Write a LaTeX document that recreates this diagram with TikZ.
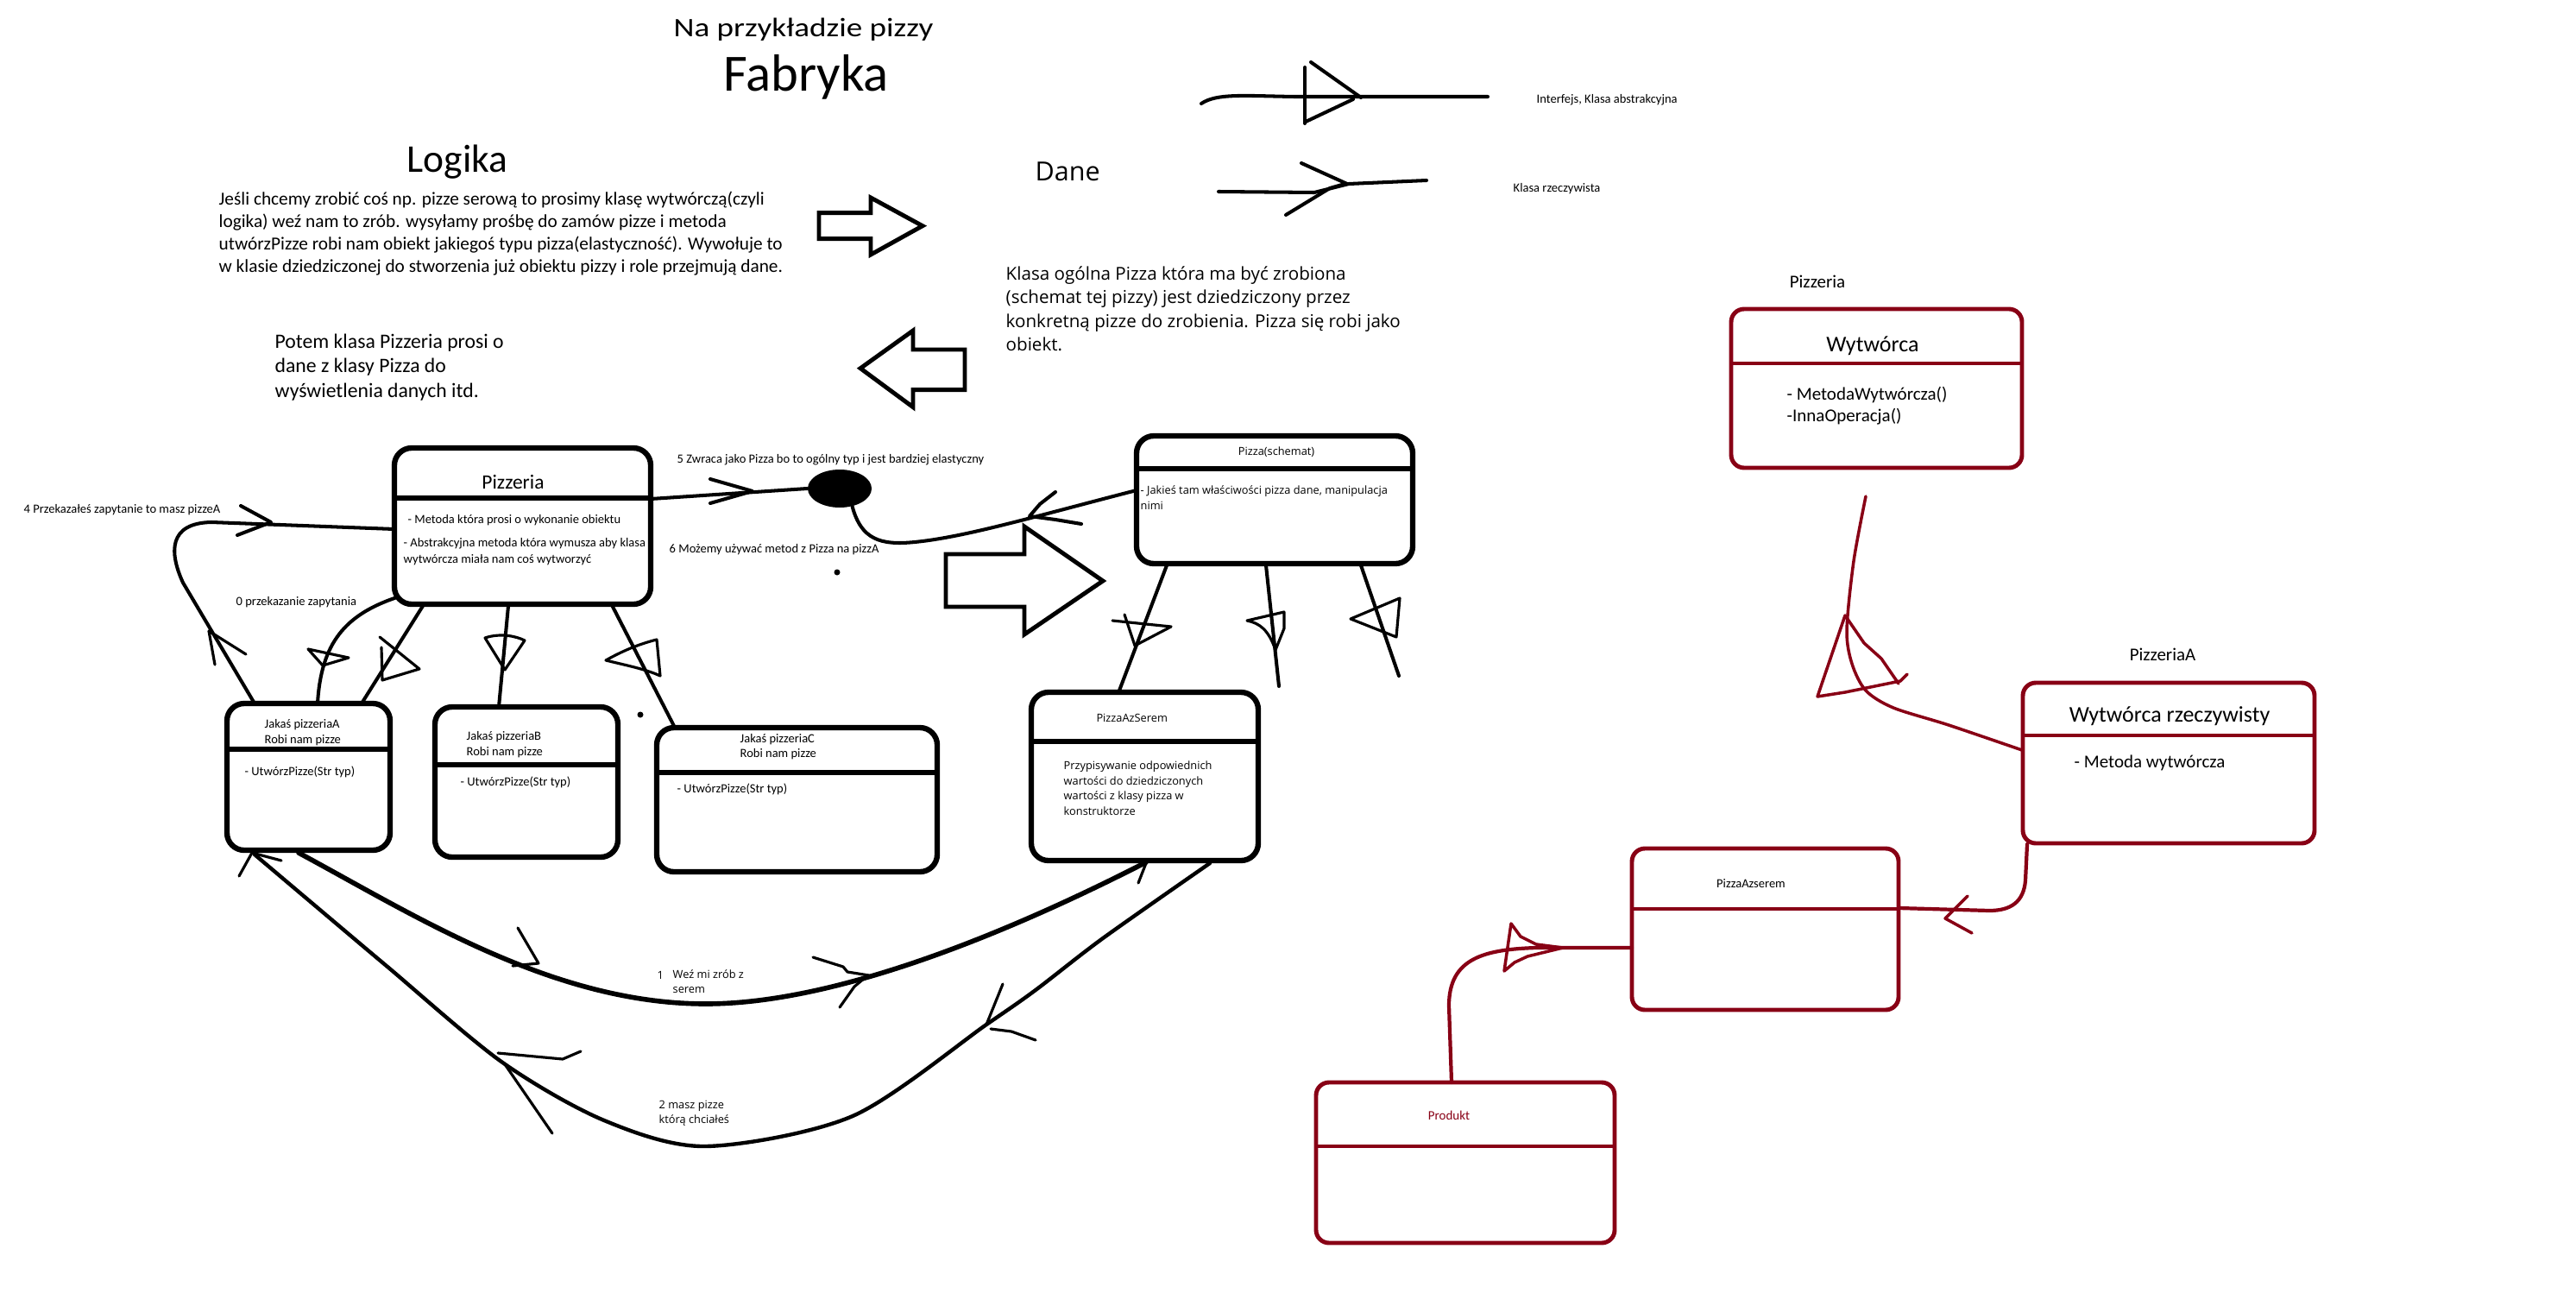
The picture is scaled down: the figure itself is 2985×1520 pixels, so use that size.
\documentclass[tikz,border=0pt]{standalone}
\usepackage{fontspec}
\setmainfont{Carlito}
\newfontfamily\seg{Open Sans}
\newfontfamily\wide[FakeStretch=1.2]{Carlito}
\usetikzlibrary{shapes.geometric}
\definecolor{dred}{RGB}{136,0,21}
\newcommand\fz[1]{\fontsize{#1pt}{#1pt}\selectfont}
\begin{document}
\begin{tikzpicture}[x=0.1mm,y=-0.1mm,
  box/.style={draw, line width=1.8pt, rounded corners=2mm, inner sep=0pt},
  rbox/.style={draw=dred, line width=1.4pt, rounded corners=1.5mm, inner sep=0pt},
  divl/.style={line width=1.8pt},
  rdivl/.style={draw=dred, line width=1.4pt},
  conn/.style={line width=1.15pt, line cap=round, line join=round},
  thinl/.style={line width=0.9pt, line cap=round, line join=round},
  rconn/.style={draw=dred, line width=1pt, line cap=round, line join=round},
  blockarrow/.style={line width=1.4pt, line join=miter},
  t/.style={anchor=base west, inner sep=0pt},
  tc/.style={anchor=base, inner sep=0pt}]
\useasboundingbox (0,0) rectangle (2985,1520);

% ---------- titles ----------
\node[tc, font=\wide\fz{8.8}] (title1) at (931,43) {Na przykładzie pizzy};
\node[tc, font=\fz{17.24}] (title2) at (934,106) {Fabryka};
\node[tc, font=\fz{12.94}] (logika) at (530,200) {Logika};

\node[t, font=\fz{6.06}] (lg1) at (253,237.3) {Jeśli chcemy zrobić coś np. pizze serową to prosimy klasę wytwórczą(czyli};
\node[t, font=\fz{6.06}] (lg2) at (253,263.4) {logika) weź nam to zrób. wysyłamy prośbę do zamów pizze i metoda};
\node[t, font=\fz{6.06}] (lg3) at (253,289.5) {utwórzPizze robi nam obiekt jakiegoś typu pizza(elastyczność). Wywołuje to};
\node[t, font=\fz{6.06}] (lg4) at (253,315.6) {w klasie dziedziczonej do stworzenia już obiektu pizzy i role przejmują dane.};

\node[t, font=\fz{6.74}] (pt1) at (318,403) {Potem klasa Pizzeria prosi o};
\node[t, font=\fz{6.74}] (pt2) at (318,431.7) {dane z klasy Pizza do};
\node[t, font=\fz{6.74}] (pt3) at (318,460) {wyświetlenia danych itd.};

\node[t, font=\seg\fz{8.68}] (dane) at (1199,210) {Dane};
\node[t, font=\seg\fz{5.86}] (kl1) at (1165,324) {Klasa ogólna Pizza która ma być zrobiona};
\node[t, font=\seg\fz{5.86}] (kl2) at (1165,351.5) {(schemat tej pizzy) jest dziedziczony przez};
\node[t, font=\seg\fz{5.86}] (kl3) at (1165,379) {konkretną pizze do zrobienia. Pizza się robi jako};
\node[t, font=\seg\fz{5.86}] (kl4) at (1165,406.5) {obiekt.};

% ---------- block arrows ----------
\draw[blockarrow] (949,246.7) -- (1009,246.7) -- (1009,229) -- (1069,261.7) -- (1009,295) -- (1009,276.7) -- (949,276.7) -- cycle;
\draw[blockarrow] (1118,405) -- (1058,405) -- (1058,383) -- (997,426.7) -- (1058,471.7) -- (1058,451.7) -- (1118,451.7) -- cycle;
\draw[blockarrow] (1096,642) -- (1187,642) -- (1187,610) -- (1278,673) -- (1187,735) -- (1187,703) -- (1096,703) -- cycle;

% ---------- legend ----------
\coordinate (lg1a) at (1392,120);
\coordinate (lg1b) at (1724,112);
\draw[conn] (lg1a) .. controls (1410,108) and (1440,111) .. (1500,112) -- (lg1b);
\draw[conn] (1512,78) -- (1512,143);
\draw[conn] (1519,72) -- (1577,113);
\draw[conn] (1513,141) -- (1568,115);
\node[t, font=\fz{4.13}] (leg1) at (1780,120) {Interfejs, Klasa abstrakcyjna};

\coordinate (lg2a) at (1412,222);
\coordinate (lg2b) at (1653,209);
\draw[conn] (lg2a) -- (1523,223) -- (1563,213) -- (lg2b);
\draw[conn] (1508,189) -- (1561,213);
\draw[conn] (1490,249) -- (1541,218) -- (1555,214);
\node[t, font=\fz{4.13}] (leg2) at (1753,223) {Klasa rzeczywista};

% ---------- black boxes ----------
\node[box, minimum width=29.7mm, minimum height=18.1mm] (pz) at (605.5,609.5) {};
\draw[divl] (457,577) -- (754,577);
\node[tc, font=\fz{6.69}] (pzT) at (594.5,566) {Pizzeria};
\node[t, font=\fz{4.13}] (pzm1) at (472,606) {- Metoda która prosi o wykonanie obiektu};
\node[t, font=\fz{4.13}] (pzm2) at (467,633) {- Abstrakcyjna metoda która wymusza aby klasa};
\node[t, font=\fz{4.13}] (pzm3) at (467,652.5) {wytwórcza miała nam coś wytworzyć};

\node[box, minimum width=18.9mm, minimum height=17mm] (pA) at (357.5,900) {};
\draw[divl] (263,868) -- (452,868);
\node[t, font=\fz{4.13}] (pA1) at (306,843.3) {Jakaś pizzeriaA};
\node[t, font=\fz{4.13}] (pA2) at (306,861) {Robi nam pizze};
\node[t, font=\fz{4.13}] (pA3) at (283,898) {- UtwórzPizze(Str typ)};

\node[box, minimum width=21.2mm, minimum height=17.4mm] (pB) at (610,906) {};
\draw[divl] (504,886) -- (716,886);
\node[t, font=\fz{4.13}] (pB1) at (540,857) {Jakaś pizzeriaB};
\node[t, font=\fz{4.13}] (pB2) at (540,875) {Robi nam pizze};
\node[t, font=\fz{4.13}] (pB3) at (533,910.7) {- UtwórzPizze(Str typ)};

\node[box, minimum width=32.5mm, minimum height=16.7mm] (pC) at (923.5,926.5) {};
\draw[divl] (761,895) -- (1086,895);
\node[t, font=\fz{4.13}] (pC1) at (857,860) {Jakaś pizzeriaC};
\node[t, font=\fz{4.13}] (pC2) at (857,877.7) {Robi nam pizze};
\node[t, font=\fz{4.13}] (pC3) at (784,918) {- UtwórzPizze(Str typ)};

\node[box, minimum width=32mm, minimum height=14.8mm] (pzs) at (1477,579) {};
\draw[divl] (1317,543) -- (1637,543);
\node[tc, font=\seg\fz{3.64}] (pzsT) at (1479,527.3) {Pizza(schemat)};
\node[t, font=\seg\fz{3.64}] (pzs1) at (1321,572.7) {- Jakieś tam właściwości pizza dane, manipulacja};
\node[t, font=\seg\fz{3.64}] (pzs2) at (1321,590) {nimi};

\node[box, minimum width=26.3mm, minimum height=19.5mm] (paz) at (1326.5,899.5) {};
\draw[divl] (1195,859) -- (1458,859);
\node[tc, font=\seg\fz{3.64}] (pazT) at (1311.7,836) {PizzaAzSerem};
\node[t, font=\seg\fz{3.64}] (paz1) at (1232,891) {Przypisywanie odpowiednich};
\node[t, font=\seg\fz{3.64}] (paz2) at (1232,909) {wartości do dziedziczonych};
\node[t, font=\seg\fz{3.64}] (paz3) at (1232,926.7) {wartości z klasy pizza w};
\node[t, font=\seg\fz{3.64}] (paz4) at (1232,944.3) {konstruktorze};

% ---------- blob and connectors around Pizzeria ----------
\node[ellipse, fill, inner sep=0pt, minimum width=7.4mm, minimum height=4.4mm] (blob) at (973,566) {};
\coordinate (pzE) at (754,578);
\draw[conn] (pzE) -- (blob.west);
\draw[conn] (823,555) -- (872,569) -- (823,583);
\node[t, font=\fz{4.13}] (lab5) at (784,536.7) {5 Zwraca jako Pizza bo to ogólny typ i jest bardziej elastyczny};

\coordinate (pzsW) at (1317,568);
\draw[conn] (blob.-55) .. controls (998,625) and (1020,632) .. (1060,628) .. controls (1120,622) and (1200,598) .. (pzsW);
\draw[conn] (1223,570) -- (1205,584) -- (1193,598) -- (1223,602) -- (1253,607);
\node[t, font=\fz{4.13}] (lab6) at (775,640) {6 Możemy używać metod z Pizza na pizzA};
\fill (970,663) circle (0.35mm);
\fill (742,828) circle (0.35mm);

% loop 4
\coordinate (pAn1) at (295,815);
\coordinate (pzW) at (457,613);
\draw[conn] (pAn1) -- (212,675) .. controls (196,640) and (195,606) .. (245,605) -- (pzW);
\draw[conn] (279,586) -- (314,605) -- (275,620);
\draw[thinl] (249,770) -- (242,731) -- (285,758);
\node[t, font=\fz{4.13}] (lab4) at (27,594) {4 Przekazałeś zapytanie to masz pizzeA};
\node[t, font=\fz{4.13}] (lab0) at (273,701.7) {0 przekazanie zapytania};

% inheritance Pizzeria -> A, B, C
\coordinate (pzSW) at (460,692);
\coordinate (pAn2) at (368,815);
\draw[conn] (pzSW) .. controls (400,712) and (372,745) .. (pAn2);
\draw[thinl] (357,752) -- (404,762) -- (374,771) -- cycle;

\coordinate (pzS2) at (490,702);
\coordinate (pAn3) at (419,815);
\draw[conn] (pzS2) -- (pAn3);
\draw[thinl] (440,738) -- (486,775) -- (443,788) -- (442,750);

\coordinate (pzS3) at (589,702);
\coordinate (pBn) at (578,819);
\draw[conn] (pzS3) -- (pBn);
\draw[thinl] (562,739) .. controls (580,733) and (598,737) .. (608,742) -- (585,776) -- cycle;

\coordinate (pzS4) at (708,699);
\coordinate (pCn) at (782,843);
\draw[conn] (pzS4) -- (pCn);
\draw[thinl] (702,765) .. controls (725,752) and (745,745) .. (761,741) -- (765,783) .. controls (748,775) and (722,770) .. (702,765);

% inheritance Pizza(schemat) children
\coordinate (pzsS1) at (1352,655);
\coordinate (pazN) at (1297,800);
\draw[conn] (pzsS1) -- (pazN);
\draw[thinl] (1289,719) -- (1357,726) -- (1315,748) -- (1303,712);

\coordinate (pzsS2) at (1467,655);
\coordinate (fr2) at (1482,795);
\draw[conn] (pzsS2) -- (fr2);
\draw[thinl] (1478,753) .. controls (1470,730) and (1460,722) .. (1445,719) -- (1488,709) -- (1488,728) -- cycle;

\coordinate (pzsS3) at (1577,655);
\coordinate (fr3) at (1621,783);
\draw[conn] (pzsS3) -- (fr3);
\draw[thinl] (1565,717) -- (1622,693) -- (1618,738) -- cycle;

% bottom curves
\coordinate (pAs1) at (346,988);
\coordinate (pazS1) at (1328,999);
\draw[conn, line width=1.6pt] (pAs1) .. controls (480,1060) and (640,1163) .. (818,1163) .. controls (960,1163) and (1150,1090) .. (pazS1);
\draw[thinl] (600,1075) -- (624,1116) -- (594,1119);
\draw[thinl] (942,1109) -- (977,1120) -- (982,1126) -- (1007,1130);
\draw[thinl] (973,1167) -- (990,1143) -- (1002,1133);
\draw[thinl] (1319,1023) -- (1328,1000);
\node[t, font=\seg\fz{3.64}] (lab1n) at (761,1134.3) {1};
\node[t, font=\seg\fz{3.64}] (lab1a) at (779,1133.3) {Weź mi zrób z};
\node[t, font=\seg\fz{3.64}] (lab1b) at (779,1150.7) {serem};

\coordinate (pazS2) at (1402,1000);
\coordinate (pAs2) at (295,990);
\draw[conn, line width=1.25pt] plot[smooth] coordinates {(pazS2) (1278,1087) (1200,1147) (1143,1187) (988,1293) (818,1328) (700,1298) (581,1230) (449,1120) (366,1050) (pAs2)};
\draw[thinl] (1162,1140) -- (1143,1187);
\draw[thinl] (1148,1192) -- (1172,1195) -- (1200,1205);
\draw[thinl] (577,1220) -- (652,1227) -- (673,1218);
\draw[thinl] (585,1233) -- (640,1313);
\draw[thinl] (277,1015) -- (292,988) -- (326,997);
\node[t, font=\seg\fz{3.64}] (lab2a) at (763,1284.3) {2 masz pizze};
\node[t, font=\seg\fz{3.64}] (lab2b) at (763,1301.7) {którą chciałeś};

% ---------- right side (red) ----------
\node[tc, font=\fz{5.97}] (rpz) at (2106,333) {Pizzeria};
\node[rbox, minimum width=33.7mm, minimum height=18.4mm] (wy) at (2174.5,450) {};
\draw[rdivl] (2006,421) -- (2343,421);
\node[tc, font=\fz{7.4}] (wyT) at (2170,407) {Wytwórca};
\node[t, font=\fz{5.97}] (wy1) at (2070,463) {- MetodaWytwórcza()};
\node[t, font=\fz{5.97}] (wy2) at (2070,488) {-InnaOperacja()};

\node[tc, font=\fz{5.97}] (rpzA) at (2506,765) {PizzeriaA};
\node[rbox, minimum width=33.8mm, minimum height=18.6mm] (wr) at (2513,884) {};
\draw[rdivl] (2344,852) -- (2682,852);
\node[tc, font=\fz{7.4}] (wrT) at (2514,836) {Wytwórca rzeczywisty};
\node[t, font=\fz{5.97}] (wr1) at (2403,889) {- Metoda wytwórcza};

\node[rbox, minimum width=30.9mm, minimum height=18.7mm] (raz) at (2045.5,1076.5) {};
\draw[rdivl] (1891,1053) -- (2200,1053);
\node[tc, font=\fz{4.13}] (razT) at (2029,1028) {PizzaAzserem};

\node[rbox, minimum width=34.6mm, minimum height=18.6mm] (pr) at (1698,1347) {};
\draw[rdivl] (1525,1328) -- (1871,1328);
\node[tc, font=\fz{4.27}, text=dred] (prT) at (1679,1297) {Produkt};

% red connectors
\coordinate (wrW) at (2343,869);
\coordinate (wyS) at (2162,575);
\draw[rconn] plot[smooth] coordinates {(wrW) (2258,840) (2194,820) (2162,800) (2146,769) (2140,730) (2148,650) (wyS)};
\draw[rconn] (2210,781) -- (2202,789) -- (2138,802) -- (2106,807) -- (2138,713) -- (2160,745) -- (2180,763) -- (2200,792);

\coordinate (wrS) at (2349,978);
\coordinate (razE) at (2200,1052);
\draw[rconn, line width=1.2pt] (wrS) -- (2347,1020) .. controls (2345,1045) and (2330,1055) .. (2305,1055) -- (razE);
\draw[rconn] (2280,1038) -- (2254,1064) -- (2285,1081);

\coordinate (prN) at (1682,1254);
\coordinate (razW) at (1891,1098);
\draw[rconn, line width=1.2pt] (prN) -- (1679,1165) .. controls (1679,1110) and (1720,1100) .. (1780,1098) -- (razW);
\draw[rconn] (1751,1070) -- (1762,1085) -- (1780,1094) -- (1811,1098) -- (1770,1108) -- (1755,1115) -- (1743,1125) -- cycle;

\end{tikzpicture}
\end{document}
